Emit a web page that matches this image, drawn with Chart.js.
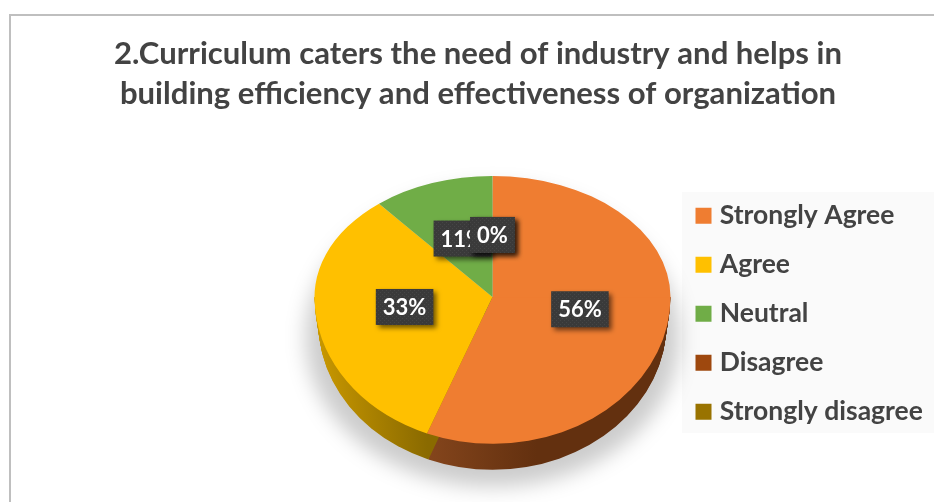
<!DOCTYPE html>
<html>
<head>
<meta charset="utf-8">
<style>
  html, body { margin: 0; padding: 0; background: #fff; }
  #wrap { width: 934px; height: 502px; position: relative; overflow: hidden; }
</style>
<script src="https://cdn.jsdelivr.net/npm/chart.js@4"></script>
</head>
<body>
<div id="wrap"><canvas id="pieChart" width="934" height="502"></canvas></div>
<script>
const titleLines = [
  "2.Curriculum caters the need of industry and helps in",
  "building efficiency and effectiveness of organization",
]
const categories = ["Strongly Agree", "Agree", "Neutral", "Disagree", "Strongly disagree"]
const percentages = [56, 33, 11, 0, 0]
const sliceColors = ["#ef7d31", "#ffc000", "#70ad47", "#9e480e", "#997300"]
const wallGradients = [
  ["#84451c", "#63300f"],
  ["#c99800", "#8a6a00"],
  ["#4a7530", "#3c6026"],
  ["#63300f", "#63300f"],
  ["#665000", "#665000"],
]

const fontFamily = "Lato, 'Open Sans', sans-serif"
const textColor = "#434343"

// the pie is squashed into a tilted disc, more at the back than at the front
const backSquash = 0.68
const frontSquash = 0.825
const wallDepth = 26

function squashY(arc, y) {
  return arc.y + (y - arc.y) * (y < arc.y ? backSquash : frontSquash)
}

function drawShadow(ctx, arc) {
  ctx.save()
  ctx.filter = "blur(10px)"
  ctx.fillStyle = "rgba(0, 0, 0, 0.2)"
  ctx.beginPath()
  ctx.ellipse(arc.x, arc.y + 40, arc.outerRadius + 9, arc.outerRadius * frontSquash + 3, 0, 0, Math.PI * 2)
  ctx.fill()
  ctx.restore()
}

function drawWall(ctx, arcs) {
  const cx = arcs[0].x
  const cy = arcs[0].y
  const r = arcs[0].outerRadius
  ctx.save()
  ctx.beginPath()
  ctx.rect(0, cy, 934, 502 - cy)
  ctx.clip()
  arcs.forEach((arc, i) => {
    if (arc.endAngle - arc.startAngle <= 0) return
    // gradient runs in the translated space used below, so relative to cx
    const from = i === 0 ? r * Math.cos(arc.endAngle) : -r
    const to = i === 0 ? from + 110 : r * Math.cos(arc.startAngle)
    const gradient = ctx.createLinearGradient(from, 0, to, 0)
    gradient.addColorStop(0, wallGradients[i][0])
    gradient.addColorStop(1, wallGradients[i][1])
    ctx.fillStyle = gradient
    for (let d = wallDepth; d >= 0; d--) {
      const shrink = 1 - 0.022 * (d / wallDepth)
      ctx.save()
      ctx.translate(cx, cy + d)
      ctx.scale(shrink, frontSquash)
      ctx.beginPath()
      ctx.moveTo(0, 0)
      ctx.arc(0, 0, r, arc.startAngle, arc.endAngle)
      ctx.closePath()
      ctx.fill()
      ctx.restore()
    }
  })
  ctx.restore()
}

function drawFace(ctx, arcs, squash, clipTop, clipHeight) {
  const cy = arcs[0].y
  ctx.save()
  ctx.beginPath()
  ctx.rect(0, clipTop, 934, clipHeight)
  ctx.clip()
  ctx.translate(0, cy)
  ctx.scale(1, squash)
  ctx.translate(0, -cy)
  arcs.forEach((arc) => arc.draw(ctx))
  ctx.restore()
}

function dottedFill(ctx) {
  const tile = document.createElement("canvas")
  tile.width = 4
  tile.height = 4
  const t = tile.getContext("2d")
  t.fillStyle = "#3a3a3a"
  t.fillRect(0, 0, 4, 4)
  t.fillStyle = "#464646"
  t.fillRect(0, 0, 1, 1)
  t.fillRect(2, 2, 1, 1)
  return ctx.createPattern(tile, "repeat")
}

const tiltedPie = {
  id: "tiltedPie",
  beforeDatasetsDraw(chart) {
    const ctx = chart.ctx
    const arcs = chart.getDatasetMeta(0).data
    const cy = arcs[0].y
    drawShadow(ctx, arcs[0])
    drawWall(ctx, arcs)
    drawFace(ctx, arcs, frontSquash, cy, 502 - cy)
    drawFace(ctx, arcs, backSquash, 0, cy + 0.5)
    return false
  },
}

const sliceLabels = {
  id: "sliceLabels",
  afterDraw(chart) {
    const ctx = chart.ctx
    const fill = dottedFill(ctx)
    ctx.save()
    ctx.font = "bold 22px " + fontFamily
    ctx.textAlign = "center"
    ctx.textBaseline = "middle"
    chart.getDatasetMeta(0).data.forEach((arc, i) => {
      const text = percentages[i] + "%"
      const pos = arc.tooltipPosition()
      const x = pos.x
      const y = squashY(arc, pos.y) - 1.5
      const w = ctx.measureText(text).width + 14
      const h = 36
      ctx.save()
      ctx.shadowColor = "rgba(0, 0, 0, 0.55)"
      ctx.shadowBlur = 5
      ctx.shadowOffsetX = 3
      ctx.shadowOffsetY = 3
      ctx.fillStyle = fill
      ctx.fillRect(x - w / 2, y - h / 2, w, h)
      ctx.restore()
      ctx.fillStyle = "#ffffff"
      ctx.fillText(text, x, y + 1)
    })
    ctx.restore()
  },
}

const chartFrame = {
  id: "chartFrame",
  beforeDraw(chart) {
    const ctx = chart.ctx
    ctx.save()
    ctx.fillStyle = "#bfbfbf"
    ctx.fillRect(9, 14, 925, 2)
    ctx.fillRect(9, 14, 2, 488)
    ctx.fillStyle = "#fafafa"
    ctx.fillRect(682, 192, 252, 241)
    ctx.restore()
  },
  afterLayout(chart) {
    // title is centred on the plot side of the frame, legend sits in its own panel
    const title = chart.titleBlock
    title.left = 10
    title.right = 946
    const legend = chart.legend
    legend.left = 678
    legend.right = 934
    legend.top = 180
    legend.bottom = 500
    legend.width = 256
    legend.height = 320
  },
}

// thin box with a thick stroke of the same colour keeps the text close to the swatch
function legendItems(chart) {
  const items = Chart.overrides.pie.plugins.legend.labels.generateLabels(chart)
  return items.map((item) => ({
    ...item,
    strokeStyle: item.fillStyle,
    lineWidth: 10,
    lineJoin: "miter",
  }))
}

new Chart(document.getElementById("pieChart"), {
  type: "pie",
  data: {
    labels: categories,
    datasets: [
      {
        data: percentages,
        backgroundColor: sliceColors,
        borderWidth: 0,
      },
    ],
  },
  options: {
    responsive: false,
    animation: false,
    layout: {
      padding: { left: 314.5, right: 263.5, top: 0, bottom: 27 },
    },
    plugins: {
      title: {
        display: true,
        text: titleLines,
        color: textColor,
        font: { family: fontFamily, size: 31.1, weight: "bold", lineHeight: 1.286 },
        padding: { top: 34, bottom: 5 },
      },
      legend: {
        position: "chartArea",
        align: "start",
        labels: {
          boxWidth: 6,
          boxHeight: 6,
          color: textColor,
          font: { family: fontFamily, size: 26.5, weight: "bold" },
          padding: 22.5,
          generateLabels: legendItems,
        },
      },
      tooltip: { enabled: false },
    },
  },
  plugins: [chartFrame, tiltedPie, sliceLabels],
})
</script>
</body>
</html>
